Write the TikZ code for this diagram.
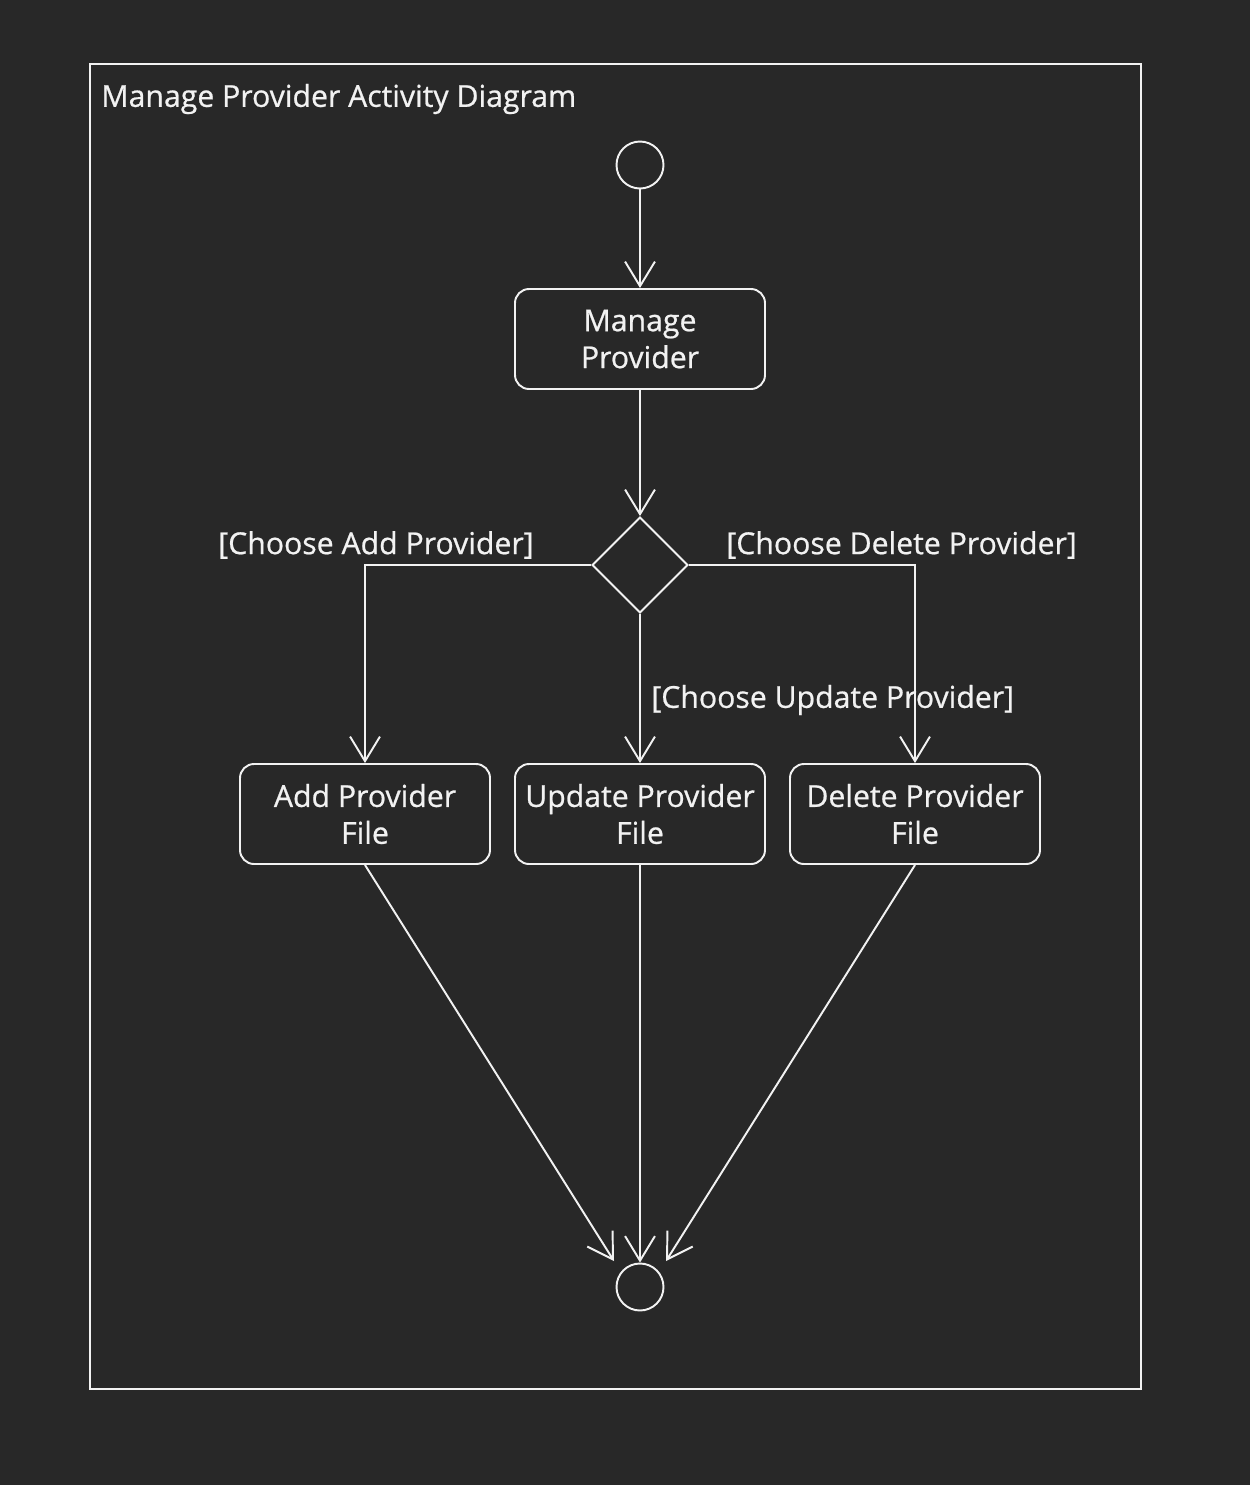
\documentclass[tikz,border=0pt]{standalone}
\usepackage{fontspec}
\setmainfont{Open Sans}[FakeBold=0.7]
\usetikzlibrary{arrows.meta,shapes.geometric}
\definecolor{bgdark}{HTML}{282828}
\definecolor{ink}{HTML}{F2F2F2}
\begin{document}
\begin{tikzpicture}[x=0.02cm,y=-0.02cm,
  every node/.style={text=ink,font=\fontsize{17.2}{21}\selectfont},
  action/.style={draw=ink,line width=1.1pt,rounded corners=8pt,minimum width=250*0.02cm,minimum height=100*0.02cm,align=center,inner sep=0pt},
  terminal/.style={draw=ink,line width=1.1pt,circle,minimum size=47*0.02cm,inner sep=0pt},
  decision/.style={draw=ink,line width=1.1pt,diamond,minimum width=96*0.02cm,minimum height=96*0.02cm,inner sep=0pt,aspect=1},
  flow/.style={draw=ink,line width=1.1pt,-{Straight Barb[length=14pt,width=17pt,line width=1.1pt]}},
  guard/.style={inner sep=0pt}]
  % canvas
  \fill[bgdark] (0,0) rectangle (1250,1485);
  \useasboundingbox (0,0) rectangle (1250,1485);
  % frame
  \draw[ink,line width=1.1pt] (90,64) rectangle (1141,1389);
  \node[anchor=west,inner sep=0pt] (title) at (101,99) {Manage Provider Activity Diagram};
  % nodes
  \node[terminal] (start) at (640,165) {};
  \node[action] (manage) at (640,339) {Manage\\Provider};
  \node[decision] (choice) at (640,565) {};
  \node[action] (add) at (365,814) {Add Provider\\File};
  \node[action] (update) at (640,814) {Update Provider\\File};
  \node[action] (delete) at (915,814) {Delete Provider\\File};
  \node[terminal] (finish) at (640,1287) {};
  % arrival points above the final node
  \coordinate (finL) at (614,1261);
  \coordinate (finR) at (666,1261);
  % flows
  \draw[flow] (start) -- (manage);
  \draw[flow] (manage) -- (choice);
  \draw[flow] (choice.west) -| (add.north);
  \draw[flow] (choice.east) -| (delete.north);
  \draw[flow] (choice.south) -- (update.north);
  \draw[flow] (add.south) -- (finL);
  \draw[flow] (update.south) -- (finish.north);
  \draw[flow] (delete.south) -- (finR);
  % guards
  \node[guard,anchor=east] (gadd) at (534,545) {[Choose Add Provider]};
  \node[guard,anchor=west] (gdel) at (726,545) {[Choose Delete Provider]};
  \node[guard,anchor=west] (gupd) at (651,700) {[Choose Update Provider]};
\end{tikzpicture}
\end{document}
